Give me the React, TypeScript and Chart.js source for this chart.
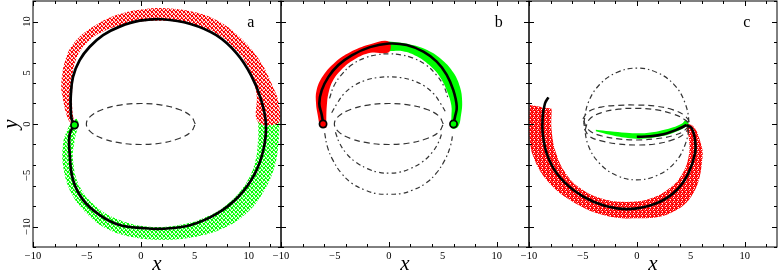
import React, { useEffect, useRef } from 'react';
import { Chart, registerables } from 'chart.js';

Chart.register(...registerables);

type Pt = [number, number];

// ---------- axes ----------
const X_RANGE: Pt = [-10, 13];
const Y_RANGE: Pt = [-12, 12];
const X_TICK_LABELS = [-10, -5, 0, 5, 10];
const Y_TICK_LABELS = [-10, -5, 0, 5, 10];
const PANEL_LETTERS = ['a', 'b', 'c'];

// ---------- panel a ----------
const A_ORBIT: Pt[] = [
  [-6.15, -0.1], [-6.42, 0.5], [-6.5, 1.5], [-6.5, 2.7], [-6.29, 4.6], [-5.67, 6.24], [-4.74, 7.54],
  [-3.5, 8.68], [-1.96, 9.5], [-0.1, 10.08], [2.0, 10.22], [4.61, 9.76], [7.0, 8.66], [8.89, 6.89],
  [10.23, 4.75], [11.13, 2.45], [11.6, 0.0], [11.37, -2.51], [10.53, -4.93], [9.07, -7.07],
  [7.05, -8.75], [4.64, -9.85], [2.0, -10.22], [0.2, -10.15], [-1.96, -9.85], [-3.81, -8.88],
  [-5.36, -7.4], [-6.29, -5.46], [-6.6, -2.86], [-6.6, -1.0], [-6.2, -0.1],
];
const A_RED_BAND: Pt[] = [
  [-6.4, 0.0], [-6.75, 0.5], [-7.2, 2.3], [-7.37, 3.97], [-6.9, 6.57], [-5.97, 8.2], [-4.43, 9.5],
  [-2.26, 10.63], [0.2, 11.2], [2.37, 11.3], [4.84, 10.96], [7.0, 10.15], [9.17, 8.5], [11.0, 6.24],
  [12.26, 3.64], [12.8, 2.0], [12.85, 0.2],
  [10.87, 0.2], [10.72, 3.0], [9.94, 5.6], [8.55, 7.5], [6.7, 9.0], [4.23, 9.82], [1.75, 10.08],
  [-0.72, 9.88], [-3.19, 9.17], [-5.05, 7.87], [-6.13, 5.92], [-6.35, 3.64], [-6.35, 1.37], [-6.2, 0.3],
];
const A_GREEN_BAND: Pt[] = [
  [12.85, 0.2], [12.8, -1.56], [12.4, -4.16], [11.3, -6.76], [9.8, -8.7], [7.6, -10.2], [4.84, -11.05],
  [2.06, -11.3], [-0.72, -11.05], [-3.19, -10.2], [-5.05, -8.7], [-6.44, -6.76], [-7.2, -4.16],
  [-7.2, -1.88], [-6.75, -0.42], [-6.4, 0.1], [-6.0, 0.5], [-5.8, 0.3],
  [-5.85, -0.3], [-6.13, -1.56], [-6.29, -3.5], [-5.67, -6.1], [-4.12, -8.07], [-1.96, -9.37],
  [0.52, -10.0], [3.3, -9.9], [5.77, -9.2], [7.94, -7.9], [9.64, -5.95], [10.57, -3.83], [10.87, -1.56],
  [10.87, 0.2],
];
const RING_ELLIPSE: Pt[] = [
  [5.05, 0], [4.65, 0.77], [3.55, 1.41], [1.92, 1.85], [0, 2.0], [-1.92, 1.85], [-3.55, 1.41],
  [-4.65, 0.77], [-5.05, 0], [-4.65, -0.77], [-3.55, -1.41], [-1.92, -1.85], [0, -2.0], [1.92, -1.85],
  [3.55, -1.41], [4.65, -0.77], [5.05, 0],
];
const A_MARKERS: Pt[] = [[-6.15, -0.1]];

// ---------- panel b ----------
const B_ORBIT: Pt[] = [
  [-6.08, 0.0], [-6.22, 0.88], [-6.45, 2.0], [-6.22, 3.3], [-5.6, 4.6], [-4.68, 5.75], [-3.44, 6.7],
  [-1.74, 7.5], [0.02, 7.85], [1.66, 7.7], [3.2, 7.05], [4.44, 6.08], [5.37, 4.8], [5.98, 3.3],
  [6.3, 1.7], [6.14, 0.7], [5.98, 0.0],
];
const B_RED_BAND: Pt[] = [
  [-6.4, -0.3], [-6.6, 0.9], [-6.75, 2.0], [-6.7, 3.3], [-6.1, 4.7], [-5.0, 6.0], [-3.6, 7.0],
  [-1.8, 7.75], [0, 8.05],
  [0, 7.0], [-1.7, 6.95], [-3.2, 6.3], [-4.4, 5.3], [-5.2, 4.2], [-5.6, 3.0], [-5.75, 1.8],
  [-5.8, 0.5], [-5.8, -0.4],
];
const B_GREEN_BAND: Pt[] = [
  [0, 8.05], [1.8, 7.8], [3.6, 7.2], [5.0, 6.2], [6.0, 5.0], [6.6, 3.6], [6.8, 2.2], [6.7, 0.9],
  [6.4, -0.3],
  [5.8, -0.4], [5.8, 0.6], [5.8, 1.8], [5.4, 3.2], [4.8, 4.5], [3.9, 5.6], [2.6, 6.6], [1.3, 7.1],
  [0, 7.1],
];
const B_ARC_UPPER_OUTER: Pt[] = [
  [-5.5, 2.5], [-5.1, 3.7], [-4.4, 4.8], [-3.4, 5.8], [-2.2, 6.45], [-1.1, 6.75], [0, 6.85],
  [1.1, 6.75], [2.2, 6.45], [3.4, 5.8], [4.4, 4.8], [5.1, 3.7], [5.5, 2.5],
];
const B_ARC_UPPER_INNER: Pt[] = [
  [-5.3, 1.1], [-4.8, 2.0], [-4.2, 2.9], [-3.3, 3.7], [-2.2, 4.25], [-1.1, 4.52], [0, 4.6],
  [1.1, 4.52], [2.2, 4.25], [3.3, 3.7], [4.2, 2.9], [4.8, 2.0], [5.3, 1.1],
];
const B_ARC_LOWER_INNER: Pt[] = [
  [-4.95, -0.8], [-4.6, -1.8], [-4.0, -2.8], [-3.1, -3.7], [-2.0, -4.35], [-1.0, -4.7], [0, -4.8],
  [1.0, -4.7], [2.0, -4.35], [3.1, -3.7], [4.0, -2.8], [4.6, -1.8], [4.95, -0.8],
];
const B_ARC_LOWER_OUTER: Pt[] = [
  [-5.95, -0.9], [-5.7, -2.2], [-5.2, -3.5], [-4.4, -4.8], [-3.4, -5.8], [-2.2, -6.45], [-1.1, -6.8],
  [0, -6.85], [1.1, -6.8], [2.2, -6.45], [3.4, -5.8], [4.4, -4.8], [5.2, -3.5], [5.7, -2.2],
  [5.95, -0.9],
];
const B_MARKER_RED: Pt[] = [[-6.1, 0.0]];
const B_MARKER_GREEN: Pt[] = [[6.0, 0.0]];

// ---------- panel c ----------
const C_ORBIT_OUTER: Pt[] = [
  [-8.2, 2.6], [-8.52, 2.0], [-8.73, 0.71], [-8.73, -0.91], [-8.36, -2.86], [-7.43, -4.81],
  [-5.89, -6.44], [-4.03, -7.58], [-1.86, -8.23], [0, -8.23], [2.15, -7.58], [3.7, -6.44],
  [4.78, -4.81], [5.4, -2.86], [5.4, -1.56], [5.09, -0.42], [4.63, -0.1],
];
const C_ORBIT_INNER: Pt[] = [
  [4.63, -0.1], [3.6, -0.6], [2.46, -1.0], [1.2, -1.2], [0, -1.25],
];
const C_RED_BAND: Pt[] = [
  [-9.9, 1.85], [-10.0, 0.3], [-9.97, -1.2], [-9.6, -3.2], [-8.36, -5.46], [-6.2, -7.41],
  [-3.1, -8.88], [0, -9.2], [3.1, -8.7], [5.24, -6.76], [6.1, -3.2], [5.84, -1.56], [5.3, -0.3],
  [4.7, 0.0],
  [4.6, -0.4], [4.85, -1.5], [4.8, -3.2], [4.2, -4.9], [3.0, -6.3], [1.2, -7.3], [-1.0, -7.6],
  [-3.2, -7.3], [-5.2, -6.3], [-6.6, -4.8], [-7.5, -2.8], [-7.9, -0.6], [-7.9, 1.5],
];
const C_GREEN_BAND: Pt[] = [
  [-3.8, -0.55], [-2.5, -0.7], [-1.0, -0.85], [0.5, -0.9], [2.0, -0.7], [3.3, -0.35], [4.2, 0.05],
  [4.5, 0.35], [4.8, 0.05],
  [4.5, -0.3], [3.3, -0.9], [2.0, -1.25], [0.5, -1.45], [-1.0, -1.35], [-2.5, -1.05], [-3.8, -0.7],
];
const C_SPHERE: Pt[] = [
  [-4.92, 0.1], [-4.5, 2.1], [-3.45, 3.85], [-1.86, 5.03], [0, 5.45], [1.86, 5.03], [3.45, 3.85],
  [4.45, 2.1], [4.82, 0.0], [4.45, -2.1], [3.45, -3.85], [1.86, -5.03], [0, -5.45], [-1.86, -5.03],
  [-3.45, -3.85], [-4.5, -2.1], [-4.92, 0.1],
];
const C_RING_1: Pt[] = [
  [-5.0, 0.5], [-4.5, 1.2], [-3.3, 1.65], [-1.7, 1.82], [0, 1.85], [1.7, 1.75], [3.3, 1.4],
  [4.4, 0.85], [4.85, 0.1], [4.4, -0.65], [3.3, -1.15], [1.7, -1.45], [0, -1.56], [-1.7, -1.45],
  [-3.3, -1.15], [-4.5, -0.55], [-5.0, 0.5],
];
const C_RING_2: Pt[] = [
  [-4.8, -0.6], [-4.4, 0.45], [-3.3, 1.1], [-1.7, 1.45], [0, 1.53], [1.7, 1.4], [3.3, 1.0],
  [4.4, 0.45], [4.85, -0.1], [4.4, -0.95], [3.3, -1.55], [1.7, -1.95], [0, -2.05], [-1.7, -1.95],
  [-3.3, -1.65], [-4.4, -1.2], [-4.8, -0.6],
];

// ---------- helpers ----------
const pts = (arr: Pt[]) => arr.map(([x, y]) => ({ x, y }));
const fmt = (v: number) => (v < 0 ? '\u2212' + Math.abs(v) : String(v));
const SERIF = "'Liberation Serif', 'DejaVu Serif', serif";

function makePattern(main: string, light: string, map: string[]): CanvasPattern | string {
  const c = document.createElement('canvas');
  c.width = map[0].length;
  c.height = map.length;
  const g = c.getContext('2d');
  if (!g) return main;
  for (let r = 0; r < map.length; r++) {
    for (let k = 0; k < map[r].length; k++) {
      const ch = map[r][k];
      if (ch === 'W') continue;
      g.fillStyle = ch === 'M' ? main : light;
      g.fillRect(k, r, 1, 1);
    }
  }
  return g.createPattern(c, 'repeat') || main;
}
const SPARSE_TILE = ['MLWM', 'WMLL', 'LMMW', 'MWLM'];
const DENSE_TILE = ['MMLM', 'MWML', 'LMMM', 'MLWM'];

const band = (data: Pt[], color: any) => ({
  data: pts(data),
  showLine: true,
  fill: 'shape',
  backgroundColor: color,
  borderColor: 'rgba(0,0,0,0)',
  borderWidth: 0,
  pointRadius: 0,
  tension: 0.4,
});
const curve = (data: Pt[], width = 2.6) => ({
  data: pts(data),
  showLine: true,
  fill: false,
  borderColor: '#000',
  borderWidth: width,
  pointRadius: 0,
  tension: 0.4,
});
const dashed = (data: Pt[], dash: number[]) => ({
  data: pts(data),
  showLine: true,
  fill: false,
  borderColor: '#333',
  borderWidth: 1.2,
  borderDash: dash,
  pointRadius: 0,
  tension: 0.4,
});
const marker = (data: Pt[], color: string) => ({
  data: pts(data),
  showLine: false,
  pointRadius: 3.6,
  pointBorderWidth: 1.7,
  pointBorderColor: '#000',
  pointBackgroundColor: color,
});

const DASH = [6, 4];
const DASHDOT = [5, 3, 1.5, 3];

const framePlugin = {
  id: 'frame',
  afterDraw(chart: any, _args: any, opts: any) {
    const { ctx, chartArea: ca } = chart;
    const xs = chart.scales.x;
    const ys = chart.scales.y;
    ctx.save();
    ctx.strokeStyle = '#000';
    ctx.lineWidth = 1;
    ctx.strokeRect(ca.left, ca.top, ca.right - ca.left, ca.bottom - ca.top);
    const xv: number[] = xs.ticks.map((t: any) => t.value);
    const yv: number[] = ys.ticks.map((t: any) => t.value);
    ctx.beginPath();
    for (const v of xv) {
      const p = Math.round(xs.getPixelForValue(v)) + 0.5;
      const len = v % 5 === 0 ? 5 : 3;
      ctx.moveTo(p, ca.bottom);
      ctx.lineTo(p, ca.bottom - len);
      ctx.moveTo(p, ca.top);
      ctx.lineTo(p, ca.top + len);
    }
    for (const v of yv) {
      const p = Math.round(ys.getPixelForValue(v)) + 0.5;
      const len = v % 5 === 0 ? 5 : 3;
      ctx.moveTo(ca.left, p);
      ctx.lineTo(ca.left + len, p);
      ctx.moveTo(ca.right, p);
      ctx.lineTo(ca.right - len, p);
    }
    ctx.stroke();

    ctx.fillStyle = '#000';
    ctx.font = `10.5px ${SERIF}`;
    ctx.textAlign = 'center';
    ctx.textBaseline = 'middle';
    for (const v of X_TICK_LABELS) {
      ctx.fillText(fmt(v), xs.getPixelForValue(v), ca.bottom + 9);
    }
    if (opts.yLabels) {
      for (const v of Y_TICK_LABELS) {
        ctx.save();
        ctx.translate(ca.left - 6, ys.getPixelForValue(v));
        ctx.rotate(-Math.PI / 2);
        ctx.fillText(fmt(v), 0, 0);
        ctx.restore();
      }
    }
    ctx.font = `italic 21px ${SERIF}`;
    ctx.textBaseline = 'alphabetic';
    ctx.fillText('x', (ca.left + ca.right) / 2, ca.bottom + 23);
    if (opts.yLabels) {
      ctx.save();
      ctx.translate(ca.left - 22, (ca.top + ca.bottom) / 2);
      ctx.rotate(-Math.PI / 2);
      ctx.textBaseline = 'middle';
      ctx.fillText('y', 0, 0);
      ctx.restore();
    }
    ctx.font = `16px ${SERIF}`;
    ctx.textBaseline = 'alphabetic';
    ctx.fillText(opts.letter, xs.getPixelForValue(10.2), ys.getPixelForValue(9.5));
    ctx.restore();
  },
};

const PANEL_BOXES = [
  { left: 33, right: 281 },
  { left: 281, right: 529 },
  { left: 529, right: 777 },
];
const W = 779;
const H = 273;

function buildDatasets(i: number, pats: any) {
  if (i === 0) {
    return [
      marker(A_MARKERS, '#00ff00'),
      curve(A_ORBIT, 2.7),
      dashed(RING_ELLIPSE, DASH),
      band(A_RED_BAND, pats.redLight),
      band(A_GREEN_BAND, pats.greenLight),
    ];
  }
  if (i === 1) {
    return [
      marker(B_MARKER_RED, '#ff0000'),
      marker(B_MARKER_GREEN, '#00ff00'),
      curve(B_ORBIT, 2.6),
      dashed(RING_ELLIPSE, DASH),
      dashed(B_ARC_UPPER_OUTER, DASHDOT),
      dashed(B_ARC_UPPER_INNER, DASHDOT),
      dashed(B_ARC_LOWER_INNER, DASHDOT),
      dashed(B_ARC_LOWER_OUTER, DASHDOT),
      band(B_RED_BAND, '#ff0000'),
      band(B_GREEN_BAND, '#00ff00'),
    ];
  }
  return [
    curve(C_ORBIT_OUTER, 2.6),
    curve(C_ORBIT_INNER, 2.6),
    dashed(C_RING_1, DASH),
    dashed(C_RING_2, DASH),
    dashed(C_SPHERE, DASHDOT),
    band(C_GREEN_BAND, '#00ff00'),
    band(C_RED_BAND, pats.red),
  ];
}

export default function App() {
  const r0 = useRef<HTMLCanvasElement>(null);
  const r1 = useRef<HTMLCanvasElement>(null);
  const r2 = useRef<HTMLCanvasElement>(null);
  const refs = [r0, r1, r2];

  useEffect(() => {
    document.body.style.margin = '0';
    const pats = {
      redLight: makePattern('#ff0000', '#ff8c8c', SPARSE_TILE),
      greenLight: makePattern('#00ff00', '#8cff8c', SPARSE_TILE),
      red: makePattern('#ff0000', '#ff6060', DENSE_TILE),
    };
    const charts = refs.map((ref, i) => {
      const box = PANEL_BOXES[i];
      return new Chart(ref.current as HTMLCanvasElement, {
        type: 'scatter',
        data: { datasets: buildDatasets(i, pats) as any },
        options: {
          animation: false,
          responsive: false,
          events: [],
          layout: {
            autoPadding: false,
            padding: { left: box.left, right: W - box.right, top: 1, bottom: 26 },
          },
          scales: {
            x: { type: 'linear', min: X_RANGE[0], max: X_RANGE[1], display: false, ticks: { stepSize: 1 } },
            y: { type: 'linear', min: Y_RANGE[0], max: Y_RANGE[1], display: false, ticks: { stepSize: 1 } },
          },
          plugins: {
            legend: { display: false },
            tooltip: { enabled: false },
            frame: { yLabels: i === 0, letter: PANEL_LETTERS[i] },
          } as any,
        },
        plugins: [framePlugin],
      });
    });
    return () => charts.forEach((c) => c.destroy());
  }, []);

  return (
    <div style={{ position: 'relative', width: W, height: H, background: '#fff' }}>
      {refs.map((r, i) => (
        <canvas key={i} ref={r} width={W} height={H} style={{ position: 'absolute', left: 0, top: 0 }} />
      ))}
    </div>
  );
}
